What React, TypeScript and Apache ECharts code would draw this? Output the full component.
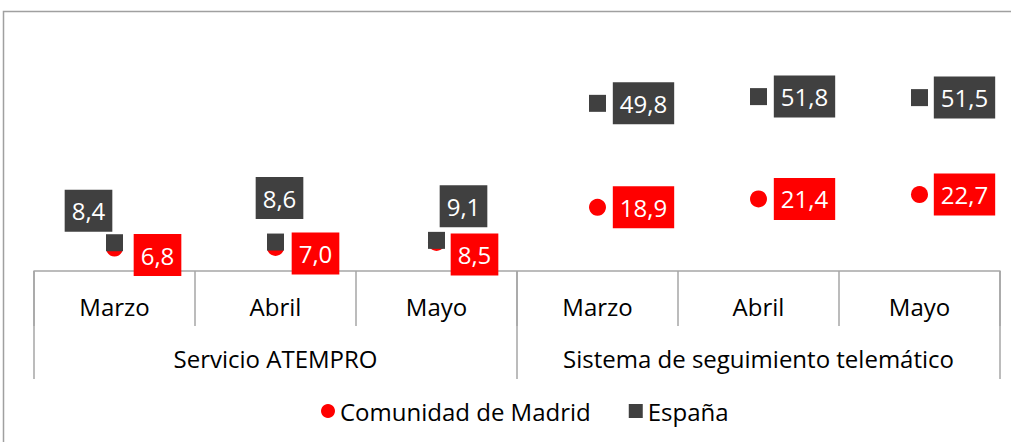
import React, { useEffect, useRef } from "react";
import * as echarts from "echarts";

const months = ["Marzo", "Abril", "Mayo", "Marzo", "Abril", "Mayo"];
const groups = ["Servicio ATEMPRO", "Sistema de seguimiento telemático"];
const madrid = [6.8, 7.0, 8.5, 18.9, 21.4, 22.7];
const espana = [8.4, 8.6, 9.1, 49.8, 51.8, 51.5];

// label offsets (style only)
const madridLabelOffsets = [[43, 7], [40, 6], [38, 12], [46, 0], [46, 0], [45, 0]];
const espanaLabelOffsets = [[-26, -32], [4, -44], [27, -34], [46, 0], [46, 0], [45, 0]];

const FONT = "Open Sans";

export default function App() {
  const ref = useRef<HTMLDivElement>(null);
  useEffect(() => {
    if (!ref.current) return;
    const chart = echarts.init(ref.current, null, { renderer: "svg" });
    const fmt = (p: any) => Number(p.value).toFixed(1).replace(".", ",");
    const labelBase = {
      show: true,
      position: "inside",
      formatter: fmt,
      color: "#fff",
      opacity: 1,
      fontFamily: FONT,
      fontSize: 24,
      lineHeight: 30,
      padding: [6, 7, 6, 7],
    };
    chart.setOption({
      animation: false,
      textStyle: { fontFamily: FONT },
      graphic: [
        {
          type: "rect",
          shape: { x: 3.5, y: 11.5, width: 1100, height: 500 },
          style: { fill: "none", stroke: "#a0a0a0", lineWidth: 1.5 },
          silent: true,
        },
      ],
      legend: {
        bottom: 14,
        left: 316,
        itemWidth: 14,
        itemHeight: 14,
        itemGap: 38,
        textStyle: { fontFamily: FONT, fontSize: 24, color: "#000" },
        data: [
          { name: "Comunidad de Madrid", icon: "circle" },
          { name: "España", icon: "rect" },
        ],
      },
      grid: { left: 34, top: 69, width: 966, height: 202 },
      xAxis: [
        {
          type: "category",
          data: months,
          position: "bottom",
          axisLine: { show: true, lineStyle: { color: "#a6a6a6", width: 1.5 } },
          axisTick: { show: true, length: 55, interval: 0, lineStyle: { color: "#a6a6a6", width: 1.5 } },
          axisLabel: { interval: 0, margin: 23, color: "#000", fontFamily: FONT, fontSize: 24 },
          splitLine: { show: false },
        },
        {
          type: "category",
          data: groups,
          position: "bottom",
          axisLine: { show: false },
          axisTick: { show: true, length: 108, interval: 0, lineStyle: { color: "#a6a6a6", width: 1.5 } },
          axisLabel: { interval: 0, margin: 75, color: "#000", fontFamily: FONT, fontSize: 24 },
          splitLine: { show: false },
        },
      ],
      yAxis: {
        type: "value",
        min: 0,
        max: 60,
        show: false,
        splitLine: { show: false },
      },
      series: [
        {
          name: "Comunidad de Madrid",
          type: "scatter",
          xAxisIndex: 0,
          symbol: "circle",
          symbolSize: 17,
          itemStyle: { color: "#ff0000", opacity: 1 },
          label: { ...labelBase, backgroundColor: "#ff0000" },
          data: madrid.map((v, i) => ({ value: v, label: { offset: madridLabelOffsets[i] } })),
        },
        {
          name: "España",
          type: "scatter",
          xAxisIndex: 0,
          symbol: "rect",
          symbolSize: 17,
          itemStyle: { color: "#404040", opacity: 1 },
          label: { ...labelBase, backgroundColor: "#404040" },
          data: espana.map((v, i) => ({ value: v, label: { offset: espanaLabelOffsets[i] } })),
        },
      ],
    });
    return () => chart.dispose();
  }, []);
  return (
    <div
      ref={ref}
      style={{ position: "fixed", left: 0, top: 0, width: 1011, height: 442, background: "#fff" }}
    />
  );
}
